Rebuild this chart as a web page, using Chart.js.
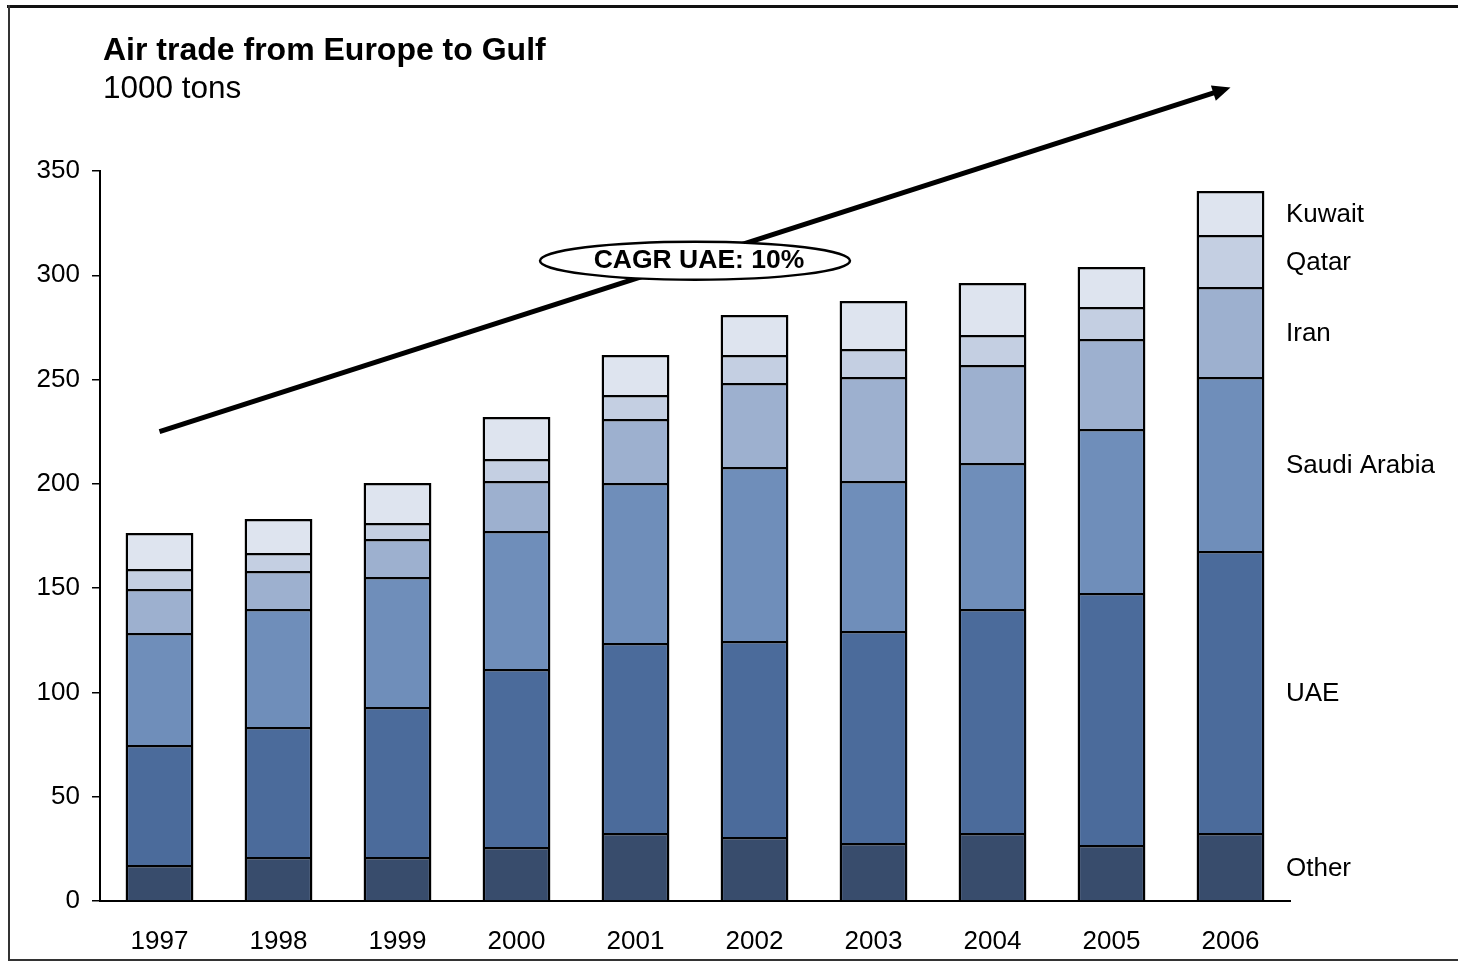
<!DOCTYPE html>
<html>
<head>
<meta charset="utf-8">
<script src="https://cdn.jsdelivr.net/npm/chart.js@4"></script>
<style>
  body { margin: 0; background: #fff; }
  #wrap { width: 1458px; height: 962px; }
</style>
</head>
<body>
<div id="wrap"><canvas id="chart" width="1458" height="962"></canvas></div>
<script>
// data, 1000 tons
const years = ["1997", "1998", "1999", "2000", "2001", "2002", "2003", "2004", "2005", "2006"];
const other = [17.3, 21.1, 21.1, 25.9, 32.6, 30.7, 27.8, 32.6, 26.8, 32.6];
const uae = [57.5, 62.3, 71.9, 85.3, 91.1, 94.0, 101.7, 107.4, 120.9, 135.2];
const saudi = [53.7, 56.6, 62.3, 66.2, 76.7, 83.4, 71.9, 70.0, 78.6, 83.4];
const iran = [21.1, 18.2, 18.3, 24.0, 30.7, 40.3, 49.8, 47.0, 43.2, 43.2];
const qatar = [9.6, 8.7, 7.6, 10.5, 11.5, 13.4, 13.5, 14.4, 15.3, 24.9];
const kuwait = [17.2, 16.3, 19.2, 20.2, 19.2, 19.2, 23.0, 24.9, 19.2, 21.1];
const yTicks = [0, 50, 100, 150, 200, 250, 300, 350];

const FONT = "'Liberation Sans', Arial, sans-serif";

const mkSet = (label, data, color) => ({
  label: label,
  data: data,
  backgroundColor: color,
  borderColor: "#000",
  // no bottom edge, so the dividers between segments stay single-width
  borderWidth: { top: 2.5, left: 2.5, right: 2.5, bottom: 0 },
  borderSkipped: false,
  barPercentage: 0.57,
  categoryPercentage: 1,
});

// frame, titles, CAGR arrow and the labels on the right
const decorations = {
  id: "decorations",
  beforeDraw(chart) {
    const ctx = chart.ctx;
    ctx.save();
    ctx.fillStyle = "#fff";
    ctx.fillRect(0, 0, chart.width, chart.height);
    ctx.strokeStyle = "#111";
    ctx.lineWidth = 3;
    ctx.beginPath();
    ctx.moveTo(7, 6.5);
    ctx.lineTo(chart.width, 6.5);
    ctx.stroke();
    ctx.lineWidth = 2;
    ctx.strokeStyle = "#333";
    ctx.beginPath();
    ctx.moveTo(9, 5);
    ctx.lineTo(9, 961);
    ctx.moveTo(8, 960);
    ctx.lineTo(chart.width, 960);
    ctx.stroke();

    ctx.fillStyle = "#000";
    ctx.textAlign = "left";
    ctx.textBaseline = "alphabetic";
    ctx.font = "bold 32px " + FONT;
    ctx.fillText("Air trade from Europe to Gulf", 103, 60);
    ctx.font = "31.5px " + FONT;
    ctx.fillText("1000 tons", 103, 98);
    ctx.restore();
  },
  afterDraw(chart) {
    const ctx = chart.ctx;
    const x = chart.scales.x;
    const y = chart.scales.y;
    ctx.save();

    // trend arrow
    const x0 = x.getPixelForValue(0), y0 = y.getPixelForValue(225);
    const x1 = x.getPixelForValue(9), y1 = y.getPixelForValue(390);
    const ang = Math.atan2(y1 - y0, x1 - x0);
    const head = 18;
    ctx.strokeStyle = "#000";
    ctx.fillStyle = "#000";
    ctx.lineWidth = 5;
    ctx.beginPath();
    ctx.moveTo(x0, y0);
    ctx.lineTo(x1 - head * 0.8 * Math.cos(ang), y1 - head * 0.8 * Math.sin(ang));
    ctx.stroke();
    ctx.beginPath();
    ctx.moveTo(x1, y1);
    ctx.lineTo(x1 - head * Math.cos(ang) + 8 * Math.sin(ang), y1 - head * Math.sin(ang) - 8 * Math.cos(ang));
    ctx.lineTo(x1 - head * Math.cos(ang) - 8 * Math.sin(ang), y1 - head * Math.sin(ang) + 8 * Math.cos(ang));
    ctx.closePath();
    ctx.fill();

    // CAGR ellipse
    const ex = x.getPixelForValue(4.5), ey = y.getPixelForValue(307);
    ctx.beginPath();
    ctx.ellipse(ex, ey, 155, 19, 0, 0, Math.PI * 2);
    ctx.fillStyle = "#fff";
    ctx.fill();
    ctx.lineWidth = 2.5;
    ctx.stroke();
    ctx.fillStyle = "#000";
    ctx.font = "bold 26.5px " + FONT;
    ctx.textAlign = "center";
    ctx.textBaseline = "middle";
    ctx.fillText("CAGR UAE: 10%", ex + 4, ey);

    // series names next to the last bar
    ctx.textAlign = "left";
    ctx.font = "26px " + FONT;
    chart.data.datasets.forEach((ds, i) => {
      const bar = chart.getDatasetMeta(i).data[years.length - 1];
      const mid = (bar.y + bar.base) / 2;
      ctx.fillText(ds.label, 1286, mid + 2);
    });
    ctx.restore();
  },
};

const ctx = document.getElementById("chart").getContext("2d");
const myChart = new Chart(ctx, {
  type: "bar",
  data: {
    labels: years,
    datasets: [
      mkSet("Other", other, "#384c6c"),
      mkSet("UAE", uae, "#4b6b9b"),
      mkSet("Saudi Arabia", saudi, "#6f8eba"),
      mkSet("Iran", iran, "#9db0cf"),
      mkSet("Qatar", qatar, "#c4cfe2"),
      mkSet("Kuwait", kuwait, "#dee4ef"),
    ],
  },
  plugins: [decorations],
  options: {
    responsive: false,
    animation: false,
    layout: {
      padding: { top: 171, right: 168, left: 0, bottom: 0 },
    },
    plugins: {
      legend: { display: false },
      tooltip: { enabled: false },
      title: { display: false },
    },
    scales: {
      x: {
        stacked: true,
        afterFit: (s) => { s.height = 61; },
        grid: { drawOnChartArea: false, drawTicks: false },
        border: { display: true, color: "#000", width: 2 },
        ticks: {
          color: "#000",
          padding: 25,
          font: { family: FONT, size: 26 },
        },
      },
      y: {
        stacked: true,
        min: 0,
        max: 350,
        afterFit: (s) => { s.width = 100; },
        afterBuildTicks: (s) => { s.ticks = yTicks.map((v) => ({ value: v })); },
        grid: { drawOnChartArea: false, drawTicks: true, tickLength: 8, color: "#000", lineWidth: 1.5 },
        border: { display: true, color: "#000", width: 2 },
        ticks: {
          color: "#000",
          padding: 12,
          font: { family: FONT, size: 26 },
        },
      },
    },
  },
});
</script>
</body>
</html>
